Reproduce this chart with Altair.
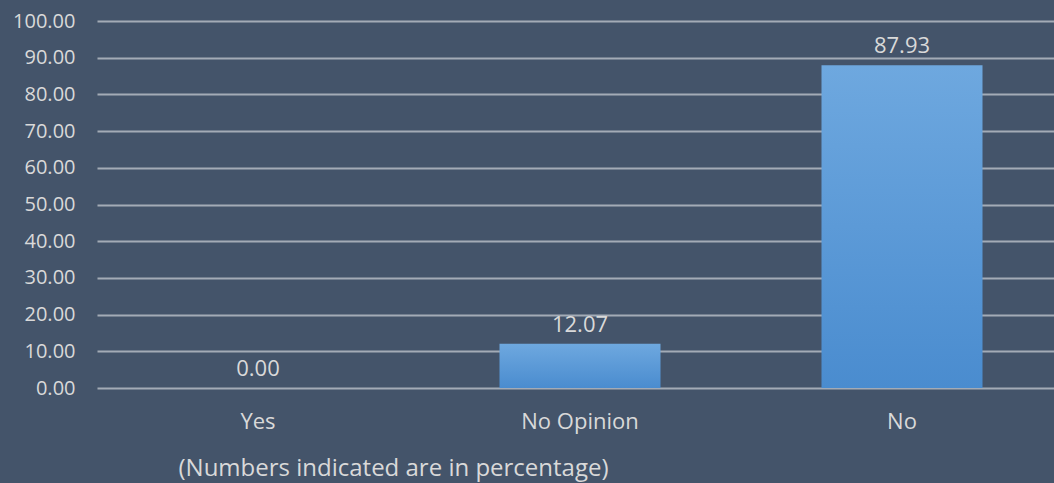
import altair as alt
import pandas as pd

categories = ["Yes", "No Opinion", "No"]
values = [0.00, 12.07, 87.93]
note = "(Numbers indicated are in percentage)"

df = pd.DataFrame({"cat": categories, "val": values})
df["lbl"] = [f"{v:.2f}" for v in values]

FONT = "Open Sans"
LBL = "#D9D9D9"
BG = "#44546A"

x = alt.X("cat:N", sort=categories,
          scale=alt.Scale(range=[0, 966], paddingInner=0.5, paddingOuter=0.25),
          axis=alt.Axis(title=note, labelAngle=0, domain=False, ticks=False,
                        labelBaseline="alphabetic", labelPadding=40,
                        labelFontSize=22, labelFont=FONT, labelColor=LBL,
                        titleFont=FONT, titleFontSize=24, titleFontWeight="normal",
                        titleColor=LBL, titleAnchor="start", titleAlign="left",
                        titleX=81, titleY=87, titleBaseline="alphabetic"))
y = alt.Y("val:Q", scale=alt.Scale(domain=[0, 100], nice=False),
          axis=alt.Axis(title=None, values=list(range(0, 101, 10)), format=".2f",
                        domain=False, ticks=False, labelPadding=22, labelFontSize=20,
                        labelOverlap=False, labelFont=FONT, labelColor=LBL, grid=True,
                        gridColor="#A3ABB6", gridWidth=1.8))

base = alt.Chart(df).encode(x=x, y=y)

bars = base.mark_bar(
    color=alt.Gradient(gradient="linear", x1=0, y1=0, x2=0, y2=1,
                       stops=[alt.GradientStop(color="#6EA8DF", offset=0),
                              alt.GradientStop(color="#4A8CCF", offset=1)]),
    strokeWidth=0
)

texts = base.mark_text(
    baseline="alphabetic", dy=-12, font=FONT, fontSize=22, color=LBL
).encode(text="lbl:N")

chart = alt.layer(bars, texts).properties(
    width=957, height=367,
    background=BG,
    padding={"left": 97, "top": 21, "right": 0, "bottom": 95},
    autosize=alt.AutoSizeParams(type="none"),
).configure_view(stroke=None)

chart.save("out.html", embed_options={"renderer": "svg", "actions": False})

with open("out.html", "r", encoding="utf-8") as f:
    html = f.read()
style = ("<style>html,body{margin:0;padding:0;overflow:hidden;background:%s;}"
         "#vis{display:block;line-height:0;}</style>" % BG)
html = html.replace("</head>", style + "</head>", 1)
with open("out.html", "w", encoding="utf-8") as f:
    f.write(html)
